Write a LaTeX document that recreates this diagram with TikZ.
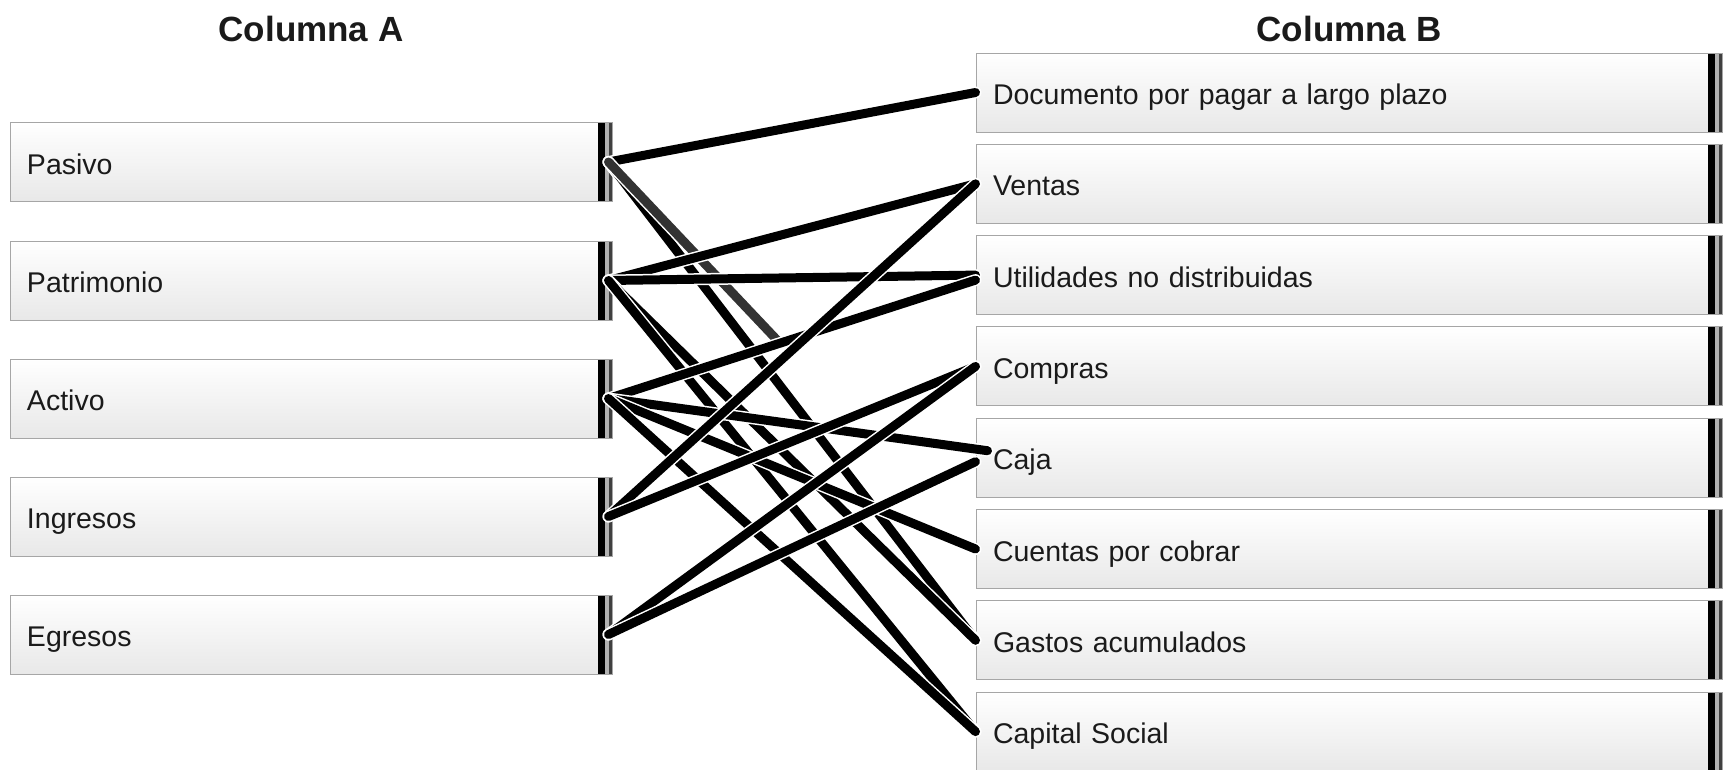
\documentclass[tikz,border=0pt]{standalone}
\usepackage{fontspec}
\setmainfont{Liberation Sans}
\usetikzlibrary{calc}
\definecolor{txt}{HTML}{1A1A1A}
\tikzset{
  box/.style={rectangle, draw=black!35, line width=1pt,
    top color=white, bottom color=black!9,
    minimum height=79pt, inner ysep=0pt, inner xsep=17pt,
    text height=30pt, text depth=6pt,
    align=left, text=txt, font=\fontsize{28.5}{32}\selectfont, anchor=center,
    path picture={
      \draw[black!80, line width=2.5pt] (path picture bounding box.north west) -- (path picture bounding box.south west);
      \fill[black] ([xshift=-14pt]path picture bounding box.north east) rectangle ([xshift=-7pt]path picture bounding box.south east);
      \fill[black!30] ([xshift=-7pt]path picture bounding box.north east) rectangle ([xshift=-3pt]path picture bounding box.south east);
      \fill[black!75] ([xshift=-3pt]path picture bounding box.north east) rectangle ([xshift=0pt]path picture bounding box.south east);
    }},
  leftbox/.style={box, text width=568pt},
  rightbox/.style={box, text width=712pt},
  title/.style={font=\fontsize{35}{40}\selectfont\bfseries, text=txt, inner sep=0pt},
  conn/.style={line width=9pt, line cap=round, draw=black,
    preaction={draw=white, line width=12pt, line cap=round}},
  connpart/.style={conn, draw=black!80},
}
\begin{document}
\begin{tikzpicture}[x=1pt,y=-1pt]
\useasboundingbox (0,0) rectangle (1725,769);
\node[title] (ta) at (311,29) {Columna A};
\node[title] (tb) at (1349,29) {Columna B};

\node[leftbox] (pas) at (311,162) {Pasivo};
\node[leftbox] (pat) at (311,280.5) {Patrimonio};
\node[leftbox] (act) at (311,398.5) {Activo};
\node[leftbox] (ing) at (311,516.5) {Ingresos};
\node[leftbox] (egr) at (311,634.5) {Egresos};

\node[rightbox] (doc) at (1349,92.5) {Documento por pagar a largo plazo};
\node[rightbox] (ven) at (1349,183.8) {Ventas};
\node[rightbox] (uti) at (1349,275.1) {Utilidades no distribuidas};
\node[rightbox] (com) at (1349,366.4) {Compras};
\node[rightbox] (caj) at (1349,457.7) {Caja};
\node[rightbox] (cue) at (1349,549.0) {Cuentas por cobrar};
\node[rightbox] (gas) at (1349,640.3) {Gastos acumulados};
\node[rightbox] (cap) at (1349,731.6) {Capital Social};

\coordinate (loose) at (777,340);
\coordinate (cajadot) at ([xshift=12pt,yshift=7pt]caj.west);

\draw[conn] ([xshift=-4pt]pas.east) -- (doc.west);
\draw[conn] ([xshift=-4pt]pas.east) -- (gas.west);
\draw[connpart] ([xshift=-4pt]pas.east) -- (loose);
\draw[conn] ([xshift=-4pt]pat.east) -- (ven.west);
\draw[conn] ([xshift=-4pt]pat.east) -- (uti.west);
\draw[conn] ([xshift=-4pt]pat.east) -- (gas.west);
\draw[conn] ([xshift=-4pt]pat.east) -- (cap.west);
\draw[conn] ([xshift=-4pt]act.east) -- ([yshift=-5pt]uti.west);
\draw[conn] ([xshift=-4pt]act.east) -- (cajadot);
\draw[conn] ([xshift=-4pt]act.east) -- (cue.west);
\draw[conn] ([xshift=-4pt]act.east) -- (cap.west);
\draw[conn] ([xshift=-4pt]ing.east) -- (ven.west);
\draw[conn] ([xshift=-4pt]ing.east) -- (com.west);
\draw[conn] ([xshift=-4pt]egr.east) -- (com.west);
\draw[conn] ([xshift=-4pt]egr.east) -- ([yshift=-4pt]caj.west);
\end{tikzpicture}
\end{document}
